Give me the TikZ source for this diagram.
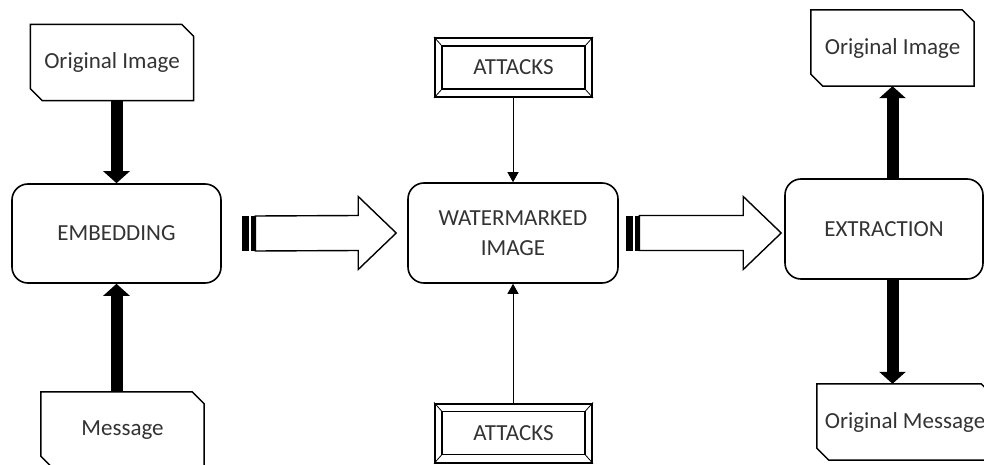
\documentclass[tikz,border=0pt]{standalone}
\usepackage{fontspec}
\setmainfont{Carlito}
\usetikzlibrary{arrows.meta,calc}

\begin{document}
\begin{tikzpicture}[x=1pt,y=-1pt,
    every node/.style={font=\fontsize{23}{30}\selectfont, text=black!80, align=center},
    stepbox/.style={draw, line width=1.6pt, rounded corners=16pt, inner sep=0pt},
    docbox/.style={minimum width=163pt, minimum height=76pt, inner sep=0pt},
    docline/.style={line width=1.5pt, line join=miter},
    attackbox/.style={draw, line width=2pt, minimum width=157pt, minimum height=59pt, inner sep=0pt},
    fatarrow/.style={line width=12pt, -{Triangle[width=26pt,length=12pt]}},
    thinarrow/.style={line width=0.9pt, -{Triangle[width=11pt,length=10pt]}},
    hollow/.style={line width=1.4pt, line join=miter, fill=white}]

    \useasboundingbox (0,0) rectangle (984,465);

    % left column
    \node[docbox] (origL) at (112,62.5) {Original Image};
    \node[stepbox, minimum width=209pt, minimum height=99pt] (emb) at (116.5,233.5) {EMBEDDING};
    \node[docbox] (msg) at (122.5,430) {Message};

    % middle column
    \node[attackbox] (atkT) at (513.5,67.5) {ATTACKS};
    \node[stepbox, minimum width=210pt, minimum height=100pt] (wm) at (513,233) {WATERMARKED\\IMAGE};
    \node[attackbox] (atkB) at (513.5,433) {ATTACKS};

    % right column
    \node[docbox] (origR) at (892.5,48) {Original Image};
    \node[stepbox, minimum width=198pt, minimum height=100pt] (ext) at (884,229) {EXTRACTION};
    \node[docbox, minimum width=176pt] (omsg) at (905,422) {Original Message};

    % snipped outlines
    \foreach \n in {origL,msg,origR,omsg}
      \draw[docline] (\n.north west) -- ([xshift=-12pt]\n.north east)
        -- ([yshift=-12pt]\n.north east) -- (\n.south east)
        -- ([xshift=12pt]\n.south west) -- ([yshift=12pt]\n.south west) -- cycle;

    % bevel of the attack boxes
    \foreach \n in {atkT,atkB} {
      \draw[line width=1.3pt] ([shift={(8pt,-9pt)}]\n.north west) rectangle ([shift={(-8pt,9pt)}]\n.south east);
      \draw[line width=0.8pt] (\n.north west) -- ([shift={(8pt,-9pt)}]\n.north west);
      \draw[line width=0.8pt] (\n.north east) -- ([shift={(-8pt,-9pt)}]\n.north east);
      \draw[line width=0.8pt] (\n.south west) -- ([shift={(8pt,9pt)}]\n.south west);
      \draw[line width=0.8pt] (\n.south east) -- ([shift={(-8pt,9pt)}]\n.south east);
    }

    % vertical arrows
    \draw[fatarrow] (emb.north |- origL.south) -- (emb.north);
    \draw[fatarrow] (emb.south |- msg.north) -- (emb.south);
    \draw[fatarrow] (origR.south |- ext.north) -- (origR.south);
    \draw[fatarrow] (origR.south |- ext.south) -- (origR.south |- omsg.north);
    \draw[thinarrow] (wm.north |- atkT.south) -- (wm.north);
    \draw[thinarrow] (wm.south |- atkB.north) -- (wm.south);

    % striped block arrows
    \coordinate (s1) at ([xshift=20pt]emb.east);
    \coordinate (e1) at ([xshift=-11pt]wm.west);
    \coordinate (s2) at ([xshift=7pt]wm.east);
    \coordinate (e2) at ([xshift=-3pt]ext.west |- wm.east);
    \foreach \s/\e in {s1/e1,s2/e2} {
      \fill (\s) ++(0pt,-17.5pt) rectangle ++(7.5pt,35pt);
      \fill (\s) ++(9.5pt,-17.5pt) rectangle ++(4pt,35pt);
      \draw[hollow] ($(\s)+(13.5pt,17.5pt)$) -- ($(\e)+(-38pt,17.5pt)$)
        -- ($(\e)+(-38pt,36.5pt)$) -- (\e) -- ($(\e)+(-38pt,-36.5pt)$)
        -- ($(\e)+(-38pt,-17.5pt)$) -- ($(\s)+(13.5pt,-17.5pt)$) -- cycle;
    }
\end{tikzpicture}
\end{document}
